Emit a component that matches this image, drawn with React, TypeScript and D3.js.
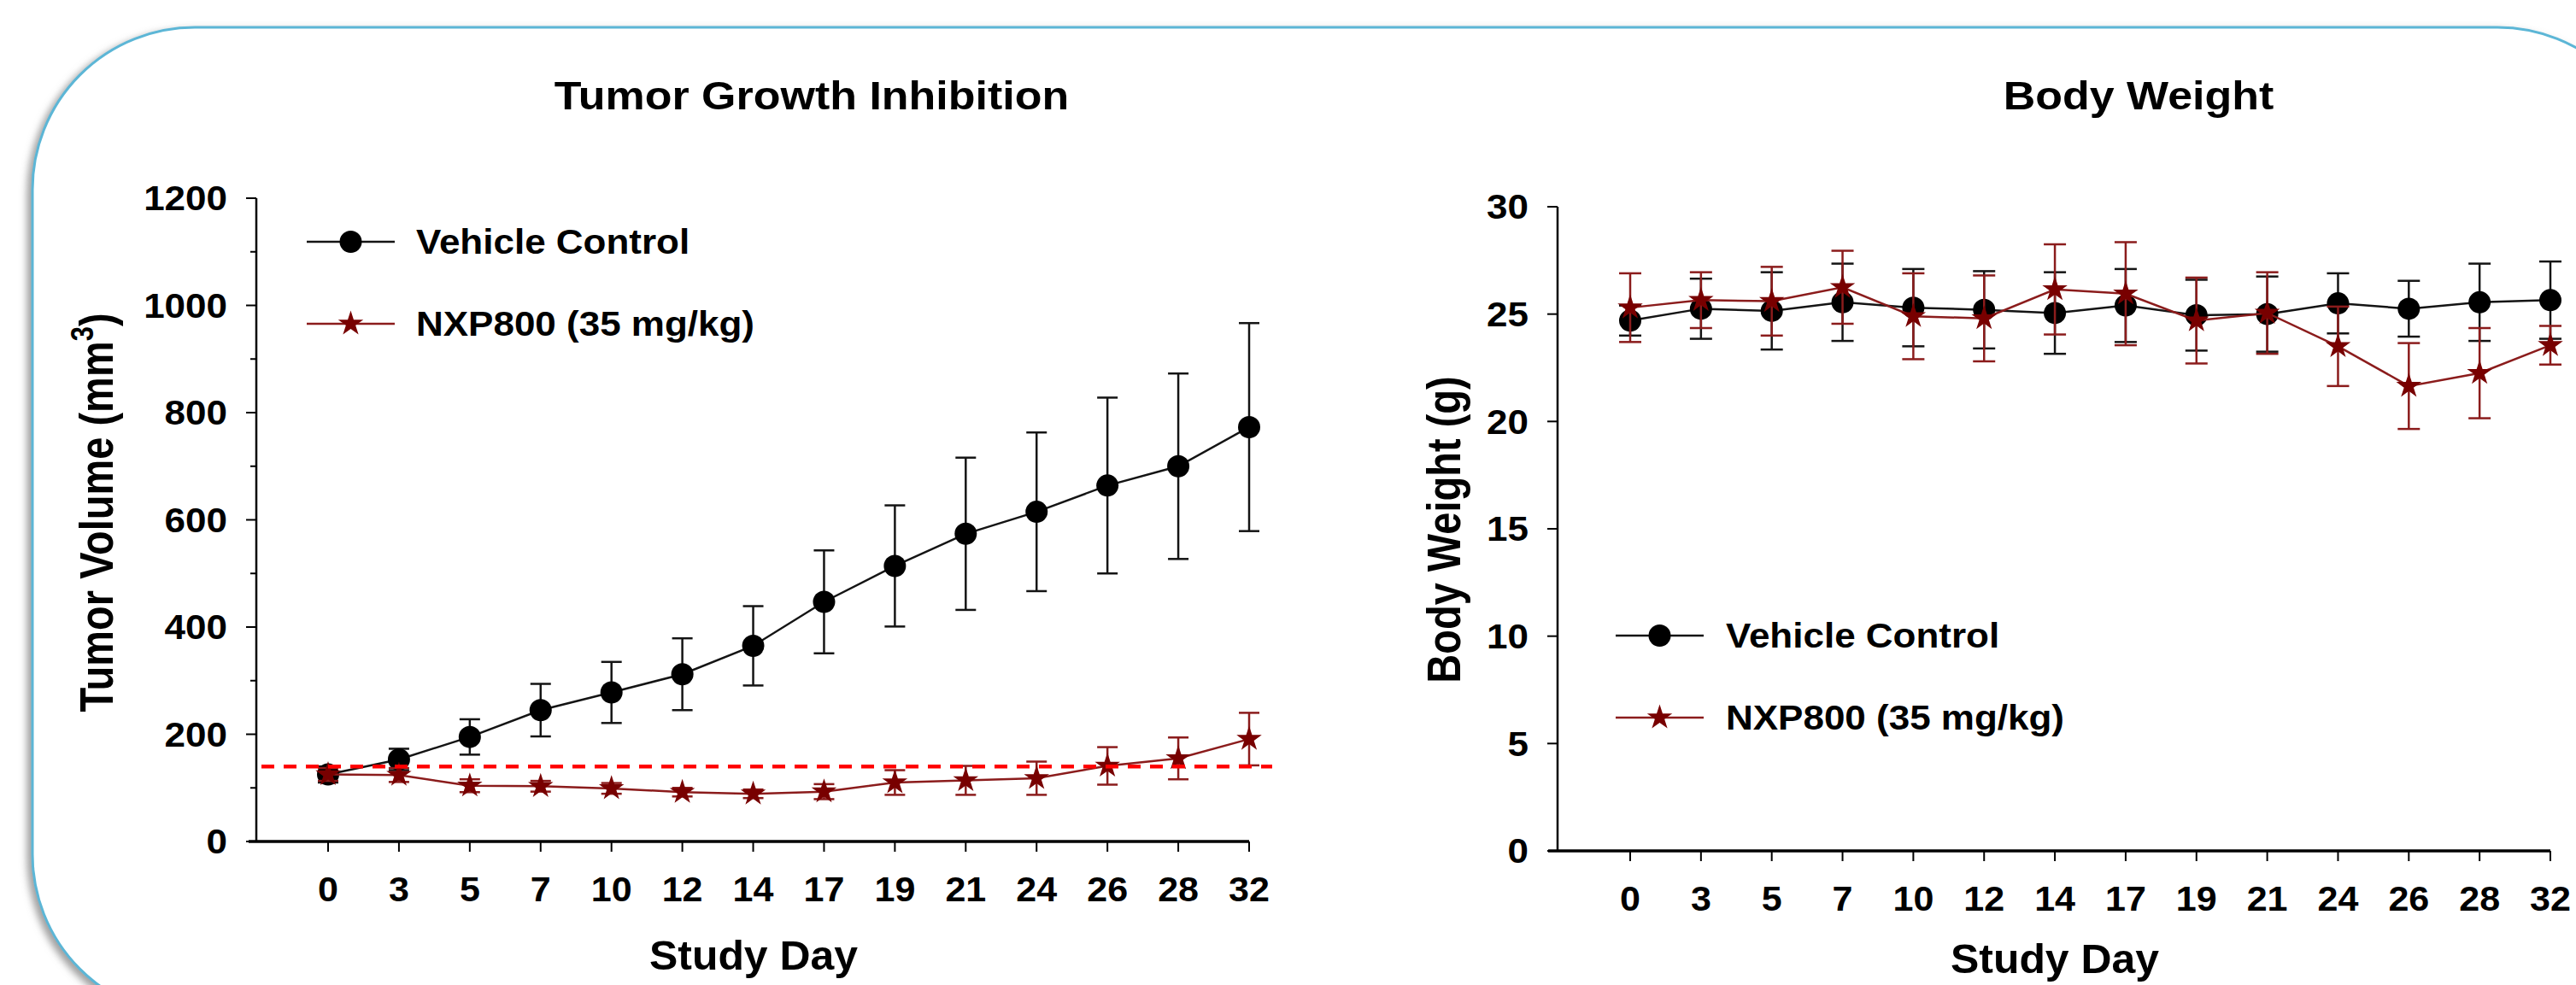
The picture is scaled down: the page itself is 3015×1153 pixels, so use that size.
import React from 'react';
import * as d3 from 'd3';

// study days are plotted as evenly spaced categories
const DAYS = ['0', '3', '5', '7', '10', '12', '14', '17', '19', '21', '24', '26', '28', '32'];

// tumor volume (mm3), mean and error
const TUMOR_VEHICLE = [125, 153, 195, 245, 278, 312, 365, 447, 514, 574, 615, 664, 700, 773];
const TUMOR_VEHICLE_ERR = [15, 20, 33, 49, 57, 67, 74, 96, 113, 142, 148, 164, 173, 194];
const TUMOR_NXP = [125, 124, 104, 103, 99, 92, 89, 93, 110, 114, 118, 141, 155, 191];
const TUMOR_NXP_ERR = [12, 13, 12, 10, 10, 8, 8, 14, 23, 27, 31, 35, 39, 49];
const TUMOR_THRESHOLD = 140;
const TUMOR_TICKS = [0, 200, 400, 600, 800, 1000, 1200];
const TUMOR_MINOR = [100, 300, 500, 700, 900, 1100];

// body weight (g), mean and error
const BW_VEHICLE = [24.7, 25.25, 25.15, 25.55, 25.3, 25.2, 25.05, 25.4, 24.95, 25.0, 25.5, 25.25, 25.55, 25.65];
const BW_VEHICLE_ERR = [0.7, 1.4, 1.8, 1.8, 1.8, 1.8, 1.9, 1.7, 1.65, 1.75, 1.4, 1.3, 1.8, 1.8];
const BW_NXP = [25.3, 25.65, 25.6, 26.25, 24.9, 24.8, 26.15, 25.95, 24.7, 25.05, 23.5, 21.65, 22.25, 23.55];
const BW_NXP_ERR = [1.6, 1.3, 1.6, 1.7, 2.0, 2.0, 2.1, 2.4, 2.0, 1.9, 1.85, 2.0, 2.1, 0.9];
const BW_TICKS = [0, 5, 10, 15, 20, 25, 30];

const SERIES_NAMES = ['Vehicle Control', 'NXP800 (35 mg/kg)'];

const FONT = 'Arial, "Liberation Sans", sans-serif';
const BLACK = '#141414';
const RED_LINE = '#8b1c1c';
const RED_FILL = '#780000';

const Txt = ({ x, y, size, sx = 1.1, anchor = 'middle', dy = '0', children }: any) => (
  <text
    transform={`translate(${x},${y}) scale(${sx},1)`}
    fontSize={size}
    fontWeight="bold"
    fontFamily={FONT}
    textAnchor={anchor}
    dy={dy}
    fill="#000"
  >
    {children}
  </text>
);

const circleR = 13;
const starPath = d3.symbol().type(d3.symbolStar).size(270)() as string;

function Series({ x, y, values, errs, kind, cap }: any) {
  const pts = values.map((v: number, i: number) => [x(DAYS[i]) as number, y(v)]);
  const line = d3.line()(pts as [number, number][]) as string;
  const stroke = kind === 'circle' ? BLACK : RED_LINE;
  return (
    <g>
      {values.map((v: number, i: number) => {
        const cx = x(DAYS[i]) as number;
        const top = y(v + errs[i]);
        const bot = y(v - errs[i]);
        return (
          <g key={i} stroke={stroke} strokeWidth={2.5}>
            <line x1={cx} x2={cx} y1={top} y2={bot} />
            <line x1={cx - cap} x2={cx + cap} y1={top} y2={top} />
            <line x1={cx - cap} x2={cx + cap} y1={bot} y2={bot} />
          </g>
        );
      })}
      <path d={line} fill="none" stroke={stroke} strokeWidth={2.5} />
      {pts.map(([px, py]: number[], i: number) =>
        kind === 'circle' ? (
          <circle key={i} cx={px} cy={py} r={circleR} fill="#000" />
        ) : (
          <path key={i} d={starPath} transform={`translate(${px},${py})`} fill={RED_FILL} />
        )
      )}
    </g>
  );
}

function Legend({ x1, x2, y0, gap, textX }: any) {
  const mx = (x1 + x2) / 2;
  return (
    <g>
      <line x1={x1} x2={x2} y1={y0} y2={y0} stroke={BLACK} strokeWidth={2.5} />
      <circle cx={mx} cy={y0} r={circleR} fill="#000" />
      <Txt x={textX} y={y0} size={40} anchor="start" dy="0.36em">{SERIES_NAMES[0]}</Txt>
      <line x1={x1} x2={x2} y1={y0 + gap} y2={y0 + gap} stroke={RED_LINE} strokeWidth={2.5} />
      <path d={starPath} transform={`translate(${mx},${y0 + gap})`} fill={RED_FILL} />
      <Txt x={textX} y={y0 + gap} size={40} anchor="start" dy="0.36em">{SERIES_NAMES[1]}</Txt>
    </g>
  );
}

function XAxis({ x, y0, axisStart }: any) {
  const range = x.range();
  return (
    <g>
      <line x1={axisStart} x2={range[1]} y1={y0} y2={y0} stroke="#000" strokeWidth={3.5} />
      {DAYS.map((d) => (
        <g key={d}>
          <line x1={x(d)} x2={x(d)} y1={y0} y2={y0 + 12} stroke="#000" strokeWidth={2} />
          <Txt x={x(d)} y={y0 + 55} size={41} sx={1.05} dy="0.36em">{d}</Txt>
        </g>
      ))}
    </g>
  );
}

function YAxis({ y, x0, ticks, minor, labelEnd }: any) {
  const [r0, r1] = y.range();
  return (
    <g>
      <line x1={x0} x2={x0} y1={r0} y2={r1} stroke="#000" strokeWidth={2.5} />
      {ticks.map((t: number) => (
        <g key={t}>
          <line x1={x0 - 12} x2={x0} y1={y(t)} y2={y(t)} stroke="#000" strokeWidth={2} />
          <Txt x={labelEnd} y={y(t)} size={40} anchor="end" dy="0.36em">{t}</Txt>
        </g>
      ))}
      {(minor || []).map((t: number) => (
        <line key={t} x1={x0 - 7} x2={x0} y1={y(t)} y2={y(t)} stroke="#000" strokeWidth={2} />
      ))}
    </g>
  );
}

export default function App() {
  const W = 3015;
  const H = 1153;

  // left panel
  const xL = d3.scalePoint<string>().domain(DAYS).range([384, 1462]);
  const yL = d3.scaleLinear().domain([0, 1200]).range([985, 232]);
  // right panel
  const xR = d3.scalePoint<string>().domain(DAYS).range([1908, 2985]);
  const yR = d3.scaleLinear().domain([0, 30]).range([996, 242]);

  return (
    <svg
      width={W}
      height={H}
      style={{ position: 'absolute', left: 0, top: 0, background: '#fff' }}
    >
      <defs>
        <filter id="shadow" x="-5%" y="-5%" width="110%" height="110%">
          <feDropShadow dx={-5} dy={4} stdDeviation={4} floodColor="#777" floodOpacity={0.7} />
        </filter>
      </defs>
      <rect x={0} y={0} width={W} height={H} fill="#fff" />
      <rect
        x={38}
        y={32}
        width={3075}
        height={1158}
        rx={190}
        ry={190}
        fill="#fff"
        stroke="#5bb6d6"
        strokeWidth={3}
        filter="url(#shadow)"
      />

      {/* Tumor growth panel */}
      <Txt x={950} y={128} size={46} sx={1.13}>Tumor Growth Inhibition</Txt>
      <text
        transform="translate(132,600) rotate(-90) scale(1,1.2)"
        fontSize={47}
        fontWeight="bold"
        fontFamily={FONT}
        textAnchor="middle"
      >
        Tumor Volume (mm<tspan fontSize={31} dy={-19}>3</tspan>
        <tspan dy={19}>)</tspan>
      </text>
      <YAxis y={yL} x0={300} ticks={TUMOR_TICKS} minor={TUMOR_MINOR} labelEnd={266} />
      <XAxis x={xL} y0={985} axisStart={291} />
      <Txt x={882} y={1135} size={48} sx={1.04}>Study Day</Txt>
      <Series x={xL} y={yL} values={TUMOR_VEHICLE} errs={TUMOR_VEHICLE_ERR} kind="circle" cap={12} />
      <Series x={xL} y={yL} values={TUMOR_NXP} errs={TUMOR_NXP_ERR} kind="star" cap={12} />
      <line
        x1={306}
        x2={1489}
        y1={yL(TUMOR_THRESHOLD)}
        y2={yL(TUMOR_THRESHOLD)}
        stroke="#ff0000"
        strokeWidth={4.5}
        strokeDasharray="15,11"
      />
      <Legend x1={359} x2={462} y0={283} gap={96} textX={487} />

      {/* Body weight panel */}
      <Txt x={2503} y={128} size={46} sx={1.13}>Body Weight</Txt>
      <text
        transform="translate(1709,620) rotate(-90) scale(1,1.2)"
        fontSize={47}
        fontWeight="bold"
        fontFamily={FONT}
        textAnchor="middle"
      >
        Body Weight (g)
      </text>
      <YAxis y={yR} x0={1823} ticks={BW_TICKS} labelEnd={1789} />
      <XAxis x={xR} y0={996} axisStart={1812} />
      <Txt x={2405} y={1139} size={48} sx={1.04}>Study Day</Txt>
      <Series x={xR} y={yR} values={BW_VEHICLE} errs={BW_VEHICLE_ERR} kind="circle" cap={13} />
      <Series x={xR} y={yR} values={BW_NXP} errs={BW_NXP_ERR} kind="star" cap={13} />
      <Legend x1={1891} x2={1994} y0={744} gap={96} textX={2020} />
    </svg>
  );
}
